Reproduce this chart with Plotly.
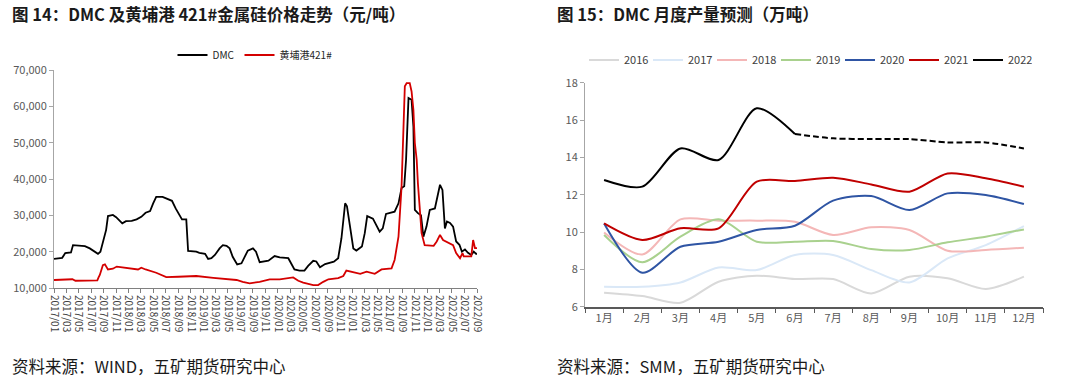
import plotly.graph_objects as go

# ---------------- Left chart data: DMC & 黄埔港421# price (元/吨) ----------------
dmc_dates = ["2017-01-01","2017-01-19","2017-02-10","2017-02-25","2017-03-25","2017-04-04","2017-05-01","2017-06-01",
             "2017-06-25","2017-07-16","2017-08-04","2017-08-16","2017-08-25","2017-09-04","2017-09-13","2017-09-22",
             "2017-10-16","2017-11-01","2017-12-01","2017-12-19","2018-01-16","2018-02-09","2018-03-04","2018-03-25",
             "2018-04-16","2018-05-01","2018-05-16","2018-06-16","2018-07-10","2018-08-01","2018-08-19","2018-09-19",
             "2018-10-10","2018-10-19","2018-11-28","2018-12-13","2019-01-10","2019-01-25","2019-02-10","2019-02-27",
             "2019-03-22","2019-04-07","2019-04-25","2019-05-10","2019-05-25","2019-06-16","2019-07-07","2019-07-22",
             "2019-08-07","2019-09-01","2019-09-16","2019-10-04","2019-11-16","2019-12-16","2020-01-10","2020-02-21",
             "2020-03-22","2020-04-16","2020-05-10","2020-05-28","2020-06-22","2020-07-07","2020-07-25","2020-08-19",
             "2020-10-01","2020-10-22","2020-11-01","2020-11-07","2020-11-25","2020-12-04","2020-12-19","2021-01-04",
             "2021-01-19","2021-02-15","2021-03-01","2021-03-13","2021-04-10","2021-04-28","2021-05-13","2021-05-28",
             "2021-06-13","2021-07-25","2021-08-13","2021-08-28","2021-09-10","2021-09-19","2021-10-01","2021-10-16",
             "2021-10-25","2021-11-01","2021-11-16","2021-12-01","2021-12-13","2021-12-28","2022-01-13","2022-02-07",
             "2022-02-23","2022-03-04","2022-03-16","2022-03-28","2022-04-07","2022-04-22","2022-05-07","2022-05-22",
             "2022-06-07","2022-06-19","2022-07-04","2022-07-19","2022-08-04","2022-08-16","2022-08-28","2022-09-01"]
dmc_values = [18000,18200,18300,19600,19800,21800,21700,21500,
              20900,20000,19400,20000,22200,24100,26000,29800,
              30100,29500,27800,28400,28500,28900,29600,30700,
              31200,33300,35100,35100,34600,34000,31900,28900,
              28900,20200,20000,19700,19400,18000,18200,19100,
              20900,21800,21600,20900,18600,16500,16800,18500,
              20300,20900,20000,17100,17500,18800,18400,18200,
              15100,14800,14800,16100,17500,17300,15700,16600,
              17250,18200,21400,23700,33300,32500,26900,20900,
              20300,21400,25100,29800,29100,26900,25500,26400,
              30400,31000,33300,37500,38000,45300,62300,61800,
              54400,31500,30600,30000,24100,26900,31500,31900,
              36500,38400,37000,26400,28300,27900,26900,22800,
              21900,20000,20600,19700,19100,20000,19400,19500]

si_dates = ["2017-01-01","2017-03-16","2017-04-01","2017-04-16","2017-07-16","2017-08-01","2017-08-07","2017-08-13",
            "2017-08-28","2017-09-07","2017-09-22","2017-10-16","2017-11-04","2017-12-01","2017-12-28","2018-02-16",
            "2018-03-04","2018-03-25","2018-05-16","2018-07-04","2018-09-01","2018-11-28","2019-02-19","2019-04-19",
            "2019-06-13","2019-07-13","2019-08-16","2019-10-04","2019-11-22","2020-01-10","2020-02-21","2020-03-16",
            "2020-04-10","2020-05-04","2020-06-22","2020-07-16","2020-08-10","2020-09-04","2020-10-22","2020-11-16",
            "2020-12-01","2020-12-28","2021-02-07","2021-03-10","2021-04-19","2021-05-22","2021-07-10","2021-07-25",
            "2021-08-13","2021-08-28","2021-09-13","2021-09-22","2021-10-07","2021-10-16","2021-10-25","2021-11-01",
            "2021-11-10","2021-11-16","2021-11-25","2021-12-04","2021-12-19","2022-02-01","2022-02-16","2022-03-04",
            "2022-03-19","2022-04-22","2022-05-07","2022-05-22","2022-06-10","2022-06-22","2022-06-28","2022-08-04",
            "2022-08-13","2022-08-22","2022-09-01"]
si_values = [12200,12200,12400,12000,12000,12100,12900,13600,
             16300,16500,15100,15300,15900,15700,15300,15100,
             15600,15100,14200,13000,13100,13300,12800,12500,
             12200,11700,11300,11700,12400,12400,12800,12900,
             12000,11500,10800,10800,11700,12400,12700,13300,
             14800,14500,13900,14500,13900,15100,15400,17700,
             24100,37900,65500,66400,66400,64100,59000,49900,
             45300,38800,31500,25100,21800,21600,22800,24600,
             23200,22300,21800,19600,18200,19600,18700,18700,
             23200,21000,21000]

# ---------------- Right chart data: DMC monthly output (万吨) ----------------
months = ["1月","2月","3月","4月","5月","6月","7月","8月","9月","10月","11月","12月"]
y2016 = [6.75,6.57,6.21,7.34,7.66,7.48,7.48,6.71,7.61,7.52,6.95,7.61]
y2017 = [7.07,7.07,7.30,8.10,7.96,8.77,8.77,7.96,7.30,8.59,9.30,10.32]
y2018 = [9.98,8.80,10.68,10.61,10.61,10.55,9.84,10.25,10.11,9.00,9.04,9.16]
y2019 = [9.84,8.38,9.75,10.68,9.48,9.48,9.52,9.09,9.04,9.45,9.75,10.14]
y2020 = [10.46,7.82,9.21,9.48,10.11,10.34,11.68,11.93,11.18,12.07,11.98,11.50]
y2021 = [10.46,9.57,10.20,10.20,12.70,12.73,12.91,12.55,12.16,13.14,12.88,12.43]
y2022_actual = [12.79,12.43,14.48,13.86,16.63,15.25]
y2022_forecast = [15.25,15.02,14.98,14.98,14.80,14.80,14.48]

series_names = ["2016","2017","2018","2019","2020","2021"]
series_vals = [y2016, y2017, y2018, y2019, y2020, y2021]
series_colors = ["#d9d9d9","#dae8f7","#f4b7b7","#a9d18e","#2f55a4","#c00000"]

FONT = "Noto Sans CJK SC, Noto Sans, sans-serif"
TICKC = "#595959"

fig = go.Figure()

fig.add_trace(go.Scatter(x=dmc_dates, y=dmc_values, name="DMC", mode="lines",
                         line=dict(color="#000000", width=1.8), xaxis="x", yaxis="y", legend="legend"))
fig.add_trace(go.Scatter(x=si_dates, y=si_values, name="黄埔港421#", mode="lines",
                         line=dict(color="#d40000", width=1.8), xaxis="x", yaxis="y", legend="legend"))

for nm, vals, col in zip(series_names, series_vals, series_colors):
    fig.add_trace(go.Scatter(x=months, y=vals, name=nm, mode="lines",
                             line=dict(color=col, width=2, shape="spline", smoothing=0.8),
                             xaxis="x2", yaxis="y2", legend="legend2"))
fig.add_trace(go.Scatter(x=months[:6], y=y2022_actual, name="2022", mode="lines",
                         line=dict(color="#000000", width=2, shape="spline", smoothing=0.8),
                         xaxis="x2", yaxis="y2", legend="legend2"))
fig.add_trace(go.Scatter(x=months[5:], y=y2022_forecast, name="2022预测", mode="lines", showlegend=False,
                         line=dict(color="#000000", width=2, shape="spline", smoothing=0.8, dash="6px,3px"),
                         xaxis="x2", yaxis="y2", legend="legend2"))

W, H = 1080, 390
def px(x): return x / W
def py(y): return 1 - y / H

fig.update_layout(
    width=W, height=H,
    margin=dict(l=0, r=0, t=0, b=0, autoexpand=False),
    paper_bgcolor="white", plot_bgcolor="white",
    font=dict(family=FONT, color=TICKC),
    xaxis=dict(domain=[px(54), px(477)], anchor="y", type="date", automargin=False,
               range=["2017-01-01", "2022-09-01"], tick0="2017-01-01", dtick="M2",
               tickformat="%Y/%m", tickangle=90, ticks="outside", ticklen=4,
               tickcolor="#808080", showline=True, linecolor="#808080", linewidth=1,
               showgrid=False, zeroline=False, tickfont=dict(size=10, color="#404040")),
    yaxis=dict(domain=[py(288), py(70)], anchor="x", range=[10000, 70000], dtick=10000, automargin=False,
               tickformat=",", ticks="outside", ticklen=4, tickcolor="#a6a6a6",
               showline=True, linecolor="#a6a6a6", linewidth=1, showgrid=False, zeroline=False,
               tickfont=dict(size=11, color=TICKC)),
    xaxis2=dict(domain=[px(585), px(1043)], anchor="y2", type="category", automargin=False,
                tickson="boundaries", ticks="outside", ticklen=5, tickcolor="#595959",
                showline=True, linecolor="#595959", linewidth=1.5, showgrid=False, zeroline=False,
                range=[-0.5, 11.5], tickfont=dict(size=11, color=TICKC)),
    yaxis2=dict(domain=[py(306.7), py(82.7)], anchor="x2", range=[6, 18], dtick=2, automargin=False,
                ticks="outside", ticklen=4, tickcolor="#a6a6a6",
                showline=True, linecolor="#a6a6a6", linewidth=1, showgrid=False, zeroline=False,
                tickfont=dict(size=11, color=TICKC)),
    legend=dict(orientation="h", x=px(255), y=py(55), xanchor="center", yanchor="middle",
                font=dict(size=10, color="#262626"), bgcolor="rgba(0,0,0,0)",
                itemwidth=30, tracegroupgap=0),
    legend2=dict(orientation="h", x=px(808), y=py(60), xanchor="center", yanchor="middle",
                 font=dict(size=11, color="#404040"), bgcolor="rgba(0,0,0,0)",
                 itemwidth=30, tracegroupgap=0, entrywidth=19, entrywidthmode="pixels"),
    annotations=[
        dict(text="<b>图 14：DMC 及黄埔港 421#金属硅价格走势（元/吨）</b>", x=px(10), y=py(14),
             xref="paper", yref="paper", xanchor="left", yanchor="middle", showarrow=False,
             font=dict(size=16.5, color="#1a1a1a", family=FONT)),
        dict(text="<b>图 15：DMC 月度产量预测（万吨）</b>", x=px(555), y=py(14),
             xref="paper", yref="paper", xanchor="left", yanchor="middle", showarrow=False,
             font=dict(size=16.5, color="#1a1a1a", family=FONT)),
        dict(text="资料来源：WIND，五矿期货研究中心", x=px(10), y=py(366),
             xref="paper", yref="paper", xanchor="left", yanchor="middle", showarrow=False,
             font=dict(size=16.5, color="#1a1a1a", family=FONT)),
        dict(text="资料来源：SMM，五矿期货研究中心", x=px(555), y=py(366),
             xref="paper", yref="paper", xanchor="left", yanchor="middle", showarrow=False,
             font=dict(size=16.5, color="#1a1a1a", family=FONT)),
    ],
)

fig.write_html("out.html", config={"displayModeBar": False},
               post_script="document.body.style.margin='0px';document.body.style.overflow='hidden';")
